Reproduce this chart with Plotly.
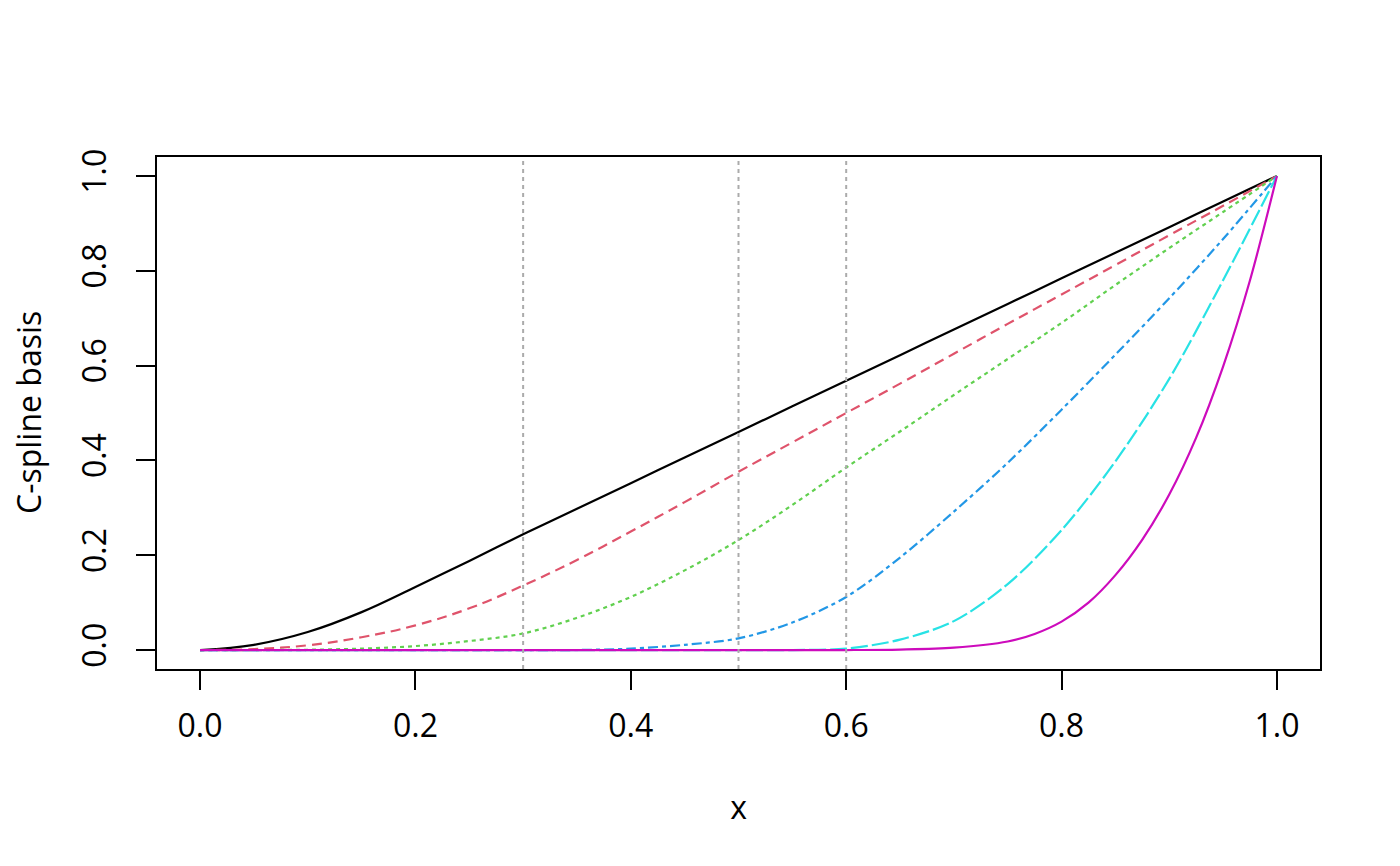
import plotly.graph_objects as go

# C-spline basis values, on a 0.05 grid
x_grid = [0.0, 0.05, 0.1, 0.15, 0.2, 0.25, 0.3, 0.35, 0.4, 0.45, 0.5,
          0.55, 0.6, 0.65, 0.7, 0.75, 0.8, 0.85, 0.9, 0.95, 1.0]

basis_1 = [0.0, 0.011, 0.038, 0.080, 0.133, 0.188, 0.244, 0.298, 0.352, 0.406, 0.460,
           0.514, 0.568, 0.622, 0.676, 0.730, 0.784, 0.838, 0.892, 0.946, 1.0]
basis_2 = [0.0, 0.002, 0.010, 0.027, 0.052, 0.088, 0.136, 0.190, 0.250, 0.312, 0.376,
           0.438, 0.500, 0.562, 0.625, 0.688, 0.750, 0.812, 0.875, 0.937, 1.0]
basis_3 = [0.0, 0.0, 0.0006, 0.003, 0.0084, 0.019, 0.035, 0.068, 0.112, 0.168, 0.232,
           0.306, 0.385, 0.461, 0.538, 0.614, 0.690, 0.770, 0.848, 0.924, 1.0]
basis_4 = [0.0, 0.0, 0.0, 0.0, 0.0, 0.0, 0.0, 0.0, 0.003, 0.011, 0.0246,
           0.058, 0.112, 0.195, 0.292, 0.395, 0.507, 0.623, 0.742, 0.867, 1.0]
basis_5 = [0.0, 0.0, 0.0, 0.0, 0.0, 0.0, 0.0, 0.0, 0.0, 0.0, 0.0,
           0.0, 0.003, 0.022, 0.061, 0.139, 0.253, 0.398, 0.572, 0.780, 1.0]

# last basis is steep near 1, read on a finer grid there
x_last = [0.0, 0.3, 0.6, 0.65, 0.7, 0.75, 0.775, 0.8, 0.825, 0.85, 0.875,
          0.9, 0.925, 0.95, 0.975, 1.0]
basis_6 = [0.0, 0.0, 0.0, 0.001, 0.005, 0.018, 0.034, 0.060, 0.100, 0.158, 0.233,
           0.328, 0.448, 0.598, 0.780, 1.0]

knots = [0.3, 0.5, 0.6]

x_ticks = [0.0, 0.2, 0.4, 0.6, 0.8, 1.0]
x_tick_text = ["0.0", "0.2", "0.4", "0.6", "0.8", "1.0"]
y_ticks = [0.0, 0.2, 0.4, 0.6, 0.8, 1.0]
y_tick_text = ["0.0", "0.2", "0.4", "0.6", "0.8", "1.0"]

# (x, y, colour, dash, smoothing)
series = [
    (x_grid, basis_1, "#000000", "solid", 1.1),
    (x_grid, basis_2, "#DF536B", "10px,6px", 1.1),
    (x_grid, basis_3, "#61D04F", "4px,4px", 1.0),
    (x_grid, basis_4, "#2297E6", "4px,4px,10px,4px", 0.9),
    (x_grid, basis_5, "#28E2E5", "17px,4px", 0.9),
    (x_last, basis_6, "#CD0BBC", "solid", 0.9),
]

fig = go.Figure()
for xs, ys, col, dash, sm in series:
    fig.add_trace(go.Scatter(
        x=xs, y=ys, mode="lines",
        line=dict(color=col, width=2.2, dash=dash, shape="spline", smoothing=sm),
        showlegend=False, hoverinfo="skip"
    ))

# knot positions
for k in knots:
    fig.add_vline(x=k, line=dict(color="#ababab", width=2, dash="4px,4px"))

font = dict(family="Open Sans", size=32, color="#000000")

# y title as an annotation, the axis title gets clamped by the margin
fig.add_annotation(
    text="C-spline basis", textangle=-90, showarrow=False,
    xref="paper", yref="paper", x=0, y=0.5, xanchor="center", yanchor="middle",
    xshift=-129, font=font,
)

# page body has an 8px margin, so margins are shifted by that much
fig.update_layout(
    width=1400, height=866,
    margin=dict(l=149, r=88, t=149, b=205),
    paper_bgcolor="white", plot_bgcolor="white",
    font=font,
    xaxis=dict(
        range=[-0.04, 1.04], tickvals=x_ticks, ticktext=x_tick_text,
        ticks="outside", ticklen=19, tickwidth=2, tickcolor="black",
        showline=True, mirror=True, linecolor="black", linewidth=2,
        showgrid=False, zeroline=False, ticklabelstandoff=9, automargin=False,
        title=dict(text="x", standoff=51, font=font),
    ),
    yaxis=dict(
        range=[-0.04, 1.04], tickvals=y_ticks, ticktext=y_tick_text,
        ticks="outside", ticklen=19, tickwidth=2, tickcolor="black",
        showline=True, mirror=True, linecolor="black", linewidth=2,
        showgrid=False, zeroline=False, tickangle=-90, ticklabelstandoff=17,
        automargin=False,
    ),
)

fig.write_html("out.html")
